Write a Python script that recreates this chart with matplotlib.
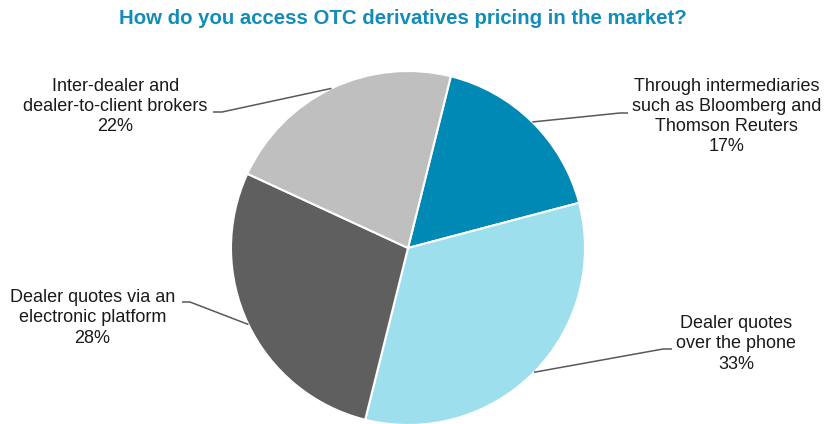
import matplotlib
matplotlib.use("Agg")
import matplotlib.pyplot as plt
import numpy as np

plt.rcParams['font.family'] = ['Liberation Sans', 'DejaVu Sans']

title = "How do you access OTC derivatives pricing in the market?"
categories = [
    "Through intermediaries\nsuch as Bloomberg and\nThomson Reuters",
    "Dealer quotes\nover the phone",
    "Dealer quotes via an\nelectronic platform",
    "Inter-dealer and\ndealer-to-client brokers",
]
values = [17, 33, 28, 22]
colors = ["#0089B5", "#9DDFEC", "#5F5F5F", "#BFBFBF"]

W, H = 825, 424
fig = plt.figure(figsize=(W / 100, H / 100), dpi=100)
ax = fig.add_axes([0, 0, 1, 1])

cx, cy, r = 408, H - 248, 177
start = 76
wedges, _ = ax.pie(values, colors=colors, startangle=start, counterclock=False,
                   center=(cx, cy), radius=r, frame=True,
                   wedgeprops=dict(edgecolor='white', linewidth=1.5))
ax.set_xlim(0, W)
ax.set_ylim(0, H)
ax.set_aspect('equal')
ax.axis('off')

# label anchor positions (pixel coords, y from top) and leader elbows
label_pos = [(726.5, 116.5), (736, 344), (92.5, 318), (115.5, 106.5)]
elbows = [((628, 113), (620, 113)), ((672, 349), (663, 349)),
          ((182, 302), (190, 302)), ((213, 112), (222, 112))]

for w, cat, v, (lx, ly), (e0, e1) in zip(wedges, categories, values, label_pos, elbows):
    mid = np.deg2rad((w.theta1 + w.theta2) / 2)
    px = cx + r * np.cos(mid)
    py = cy + r * np.sin(mid)
    ax.plot([e0[0], e1[0], px], [H - e0[1], H - e1[1], py],
            color="#595959", lw=1.1, solid_capstyle='butt')
    ax.text(lx, H - ly, f"{cat}\n{v}%", ha='center', va='center',
            fontsize=13, color='#1a1a1a', linespacing=1.25)

ax.text(403, H - 18.5, title, ha='center', va='center', fontsize=14.7,
        fontweight='bold', color='#128DBA')

fig.savefig("out.png", dpi=100)
